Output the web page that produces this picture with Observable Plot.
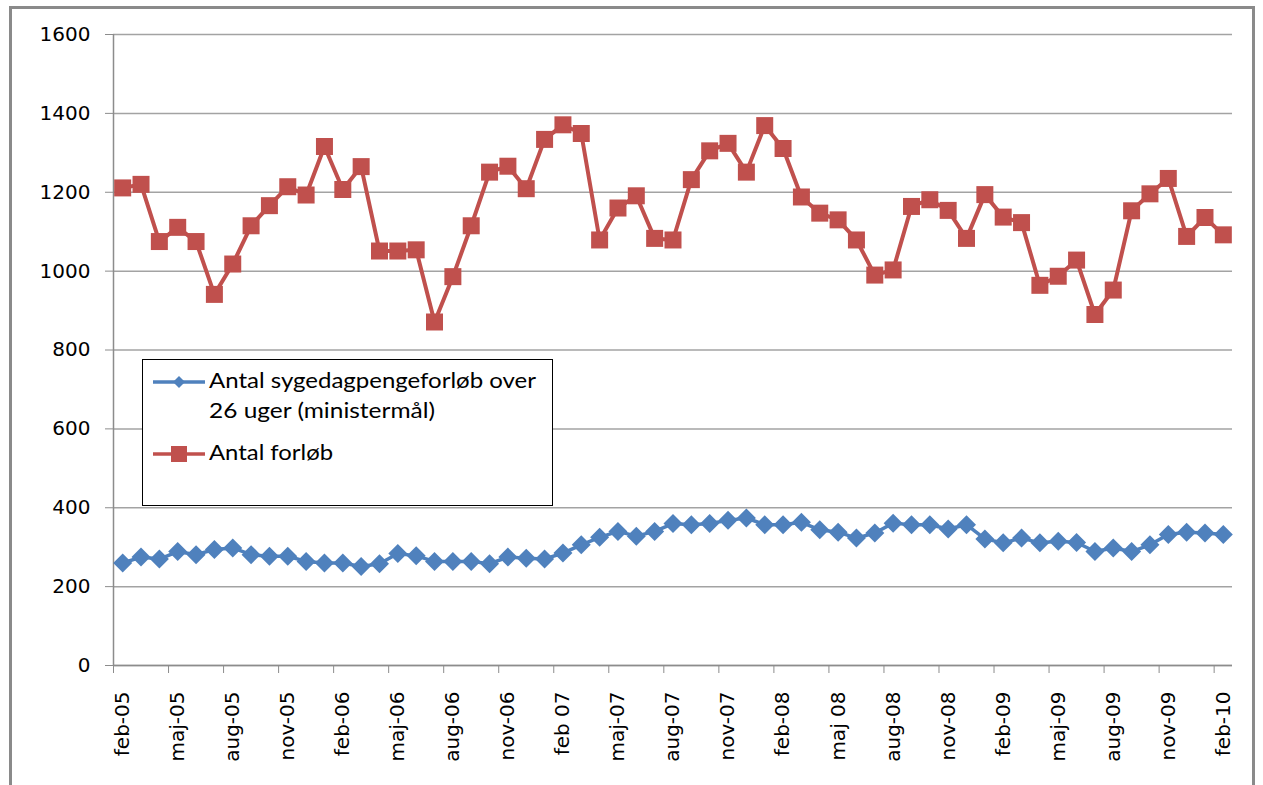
<!DOCTYPE html>
<html>
<head>
<meta charset="utf-8">
<script src="https://cdn.jsdelivr.net/npm/d3@7"></script>
<script src="https://cdn.jsdelivr.net/npm/@observablehq/plot@0.6"></script>
<style>
  html, body { margin: 0; padding: 0; background: #fff; }
  #wrap { position: relative; width: 1263px; height: 785px; overflow: hidden; }
  #frame { position: absolute; left: 9px; top: 6px; width: 1246px; height: 820px; border: 3px solid #8a8a8a; box-sizing: border-box; }
  #chart { position: absolute; left: 0; top: 0; }
  #legend { position: absolute; left: 142px; top: 359px; }
</style>
</head>
<body>
<div id="wrap">
  <div id="frame"></div>
  <div id="chart"></div>
  <div id="legend"></div>
</div>
<script>
// Month index 0 = feb-05 ... 60 = feb-10
const tickLabels = ["feb-05","maj-05","aug-05","nov-05","feb-06","maj-06","aug-06","nov-06","feb 07","maj-07","aug-07","nov-07","feb-08","maj 08","aug-08","nov-08","feb-09","maj-09","aug-09","nov-09","feb-10"];
const tickIndex = d3.range(0, 61, 3);
const boundaryTicks = d3.range(-0.5, 60, 3);
const yTicks = [0, 200, 400, 600, 800, 1000, 1200, 1400, 1600];

const seriesNames = ["Antal sygedagpengeforløb over 26 uger (ministermål)", "Antal forløb"];
const seriesColors = ["#4F81BD", "#C0504D"];

const ministermaal = [
  260,275,270,289,281,294,298,281,277,277,
  264,260,260,251,258,284,278,264,264,264,
  258,275,272,270,285,306,325,340,328,340,
  360,357,360,368,374,357,357,363,344,338,
  323,336,361,357,357,346,357,321,311,323,
  311,315,312,289,298,289,306,332,338,336,
  332
];
const antalForlob = [
  1211,1220,1075,1111,1075,941,1018,1115,1166,1214,
  1193,1316,1207,1265,1051,1051,1054,871,986,1115,
  1251,1266,1209,1334,1371,1349,1079,1160,1191,1083,
  1079,1232,1305,1324,1251,1369,1311,1188,1147,1130,
  1079,990,1003,1164,1181,1154,1083,1194,1137,1123,
  964,987,1028,890,952,1153,1196,1235,1088,1136,
  1092
];

const blueData = ministermaal.map((v, i) => ({i, v}));
const redData = antalForlob.map((v, i) => ({i, v}));

const diamond = {
  draw(ctx, size) {
    const h = Math.sqrt(size / Math.PI);
    ctx.moveTo(0, -h); ctx.lineTo(h, 0); ctx.lineTo(0, h); ctx.lineTo(-h, 0); ctx.closePath();
  }
};
const square = {
  draw(ctx, size) {
    const h = Math.sqrt(size / Math.PI);
    ctx.rect(-h, -h, 2 * h, 2 * h);
  }
};

const chart = Plot.plot({
  width: 1263,
  height: 785,
  marginLeft: 113,
  marginRight: 31,
  marginTop: 34,
  marginBottom: 120,
  style: { fontFamily: "DejaVu Sans", fontSize: "19px", color: "#000", background: "transparent" },
  x: { domain: [-0.5, 60.5] },
  y: { domain: [0, 1600] },
  marks: [
    Plot.gridY(yTicks, { stroke: "#a3a3a3", strokeOpacity: 1, strokeWidth: 1.5 }),
    Plot.ruleX([-0.5], { stroke: "#8c8c8c", strokeWidth: 1.5 }),
    Plot.ruleY([0], { stroke: "#8c8c8c", strokeWidth: 1.5 }),
    Plot.axisY({ ticks: yTicks, tickSize: 8, tickPadding: 15, tickFormat: (d) => String(d), stroke: "#8c8c8c", label: null, fontSize: 20, fill: "#000" }),
    Plot.axisX({ ticks: boundaryTicks, tickSize: 8, tickFormat: () => "", stroke: "#8c8c8c", label: null }),
    Plot.axisX({ ticks: tickIndex, tickSize: 0, tickPadding: 26, tickRotate: -90, tickFormat: (d) => tickLabels[tickIndex.indexOf(d)], label: null, fontSize: 20, fill: "#000" }),
    Plot.line(blueData, { x: "i", y: "v", stroke: seriesColors[0], strokeWidth: 3.5 }),
    Plot.dot(blueData, { x: "i", y: "v", symbol: diamond, r: 9.5, fill: seriesColors[0], stroke: "none" }),
    Plot.line(redData, { x: "i", y: "v", stroke: seriesColors[1], strokeWidth: 4 }),
    Plot.dot(redData, { x: "i", y: "v", symbol: square, r: 8.5, fill: seriesColors[1], stroke: "none" })
  ]
});
document.getElementById("chart").appendChild(chart);

// Legend
const lg = d3.select("#legend").append("svg")
  .attr("width", 411).attr("height", 147)
  .style("font-family", "Lato, 'Open Sans', sans-serif")
  .style("font-size", "22px");
lg.append("rect").attr("x", 0.5).attr("y", 0.5).attr("width", 410).attr("height", 146)
  .attr("fill", "#fff").attr("stroke", "#000").attr("stroke-width", 1);

const entries = [
  { color: seriesColors[0], y: 23, sym: "diamond", lines: ["Antal sygedagpengeforløb over", "26 uger (ministermål)"], widths: [327, 226] },
  { color: seriesColors[1], y: 95, sym: "square", lines: [seriesNames[1]], widths: [124] }
];
entries.forEach(e => {
  lg.append("line").attr("x1", 11).attr("x2", 63).attr("y1", e.y).attr("y2", e.y)
    .attr("stroke", e.color).attr("stroke-width", 3.5);
  if (e.sym === "diamond") {
    lg.append("path").attr("d", "M37,17L43,23L37,29L31,23Z").attr("fill", e.color);
  } else {
    lg.append("rect").attr("x", 29).attr("y", e.y - 8).attr("width", 16).attr("height", 16).attr("fill", e.color);
  }
  e.lines.forEach((t, k) => {
    lg.append("text").attr("x", 67).attr("y", e.y + 6 + k * 30)
      .attr("textLength", e.widths[k]).attr("lengthAdjust", "spacingAndGlyphs")
      .attr("fill", "#000").text(t);
  });
});
</script>
</body>
</html>
